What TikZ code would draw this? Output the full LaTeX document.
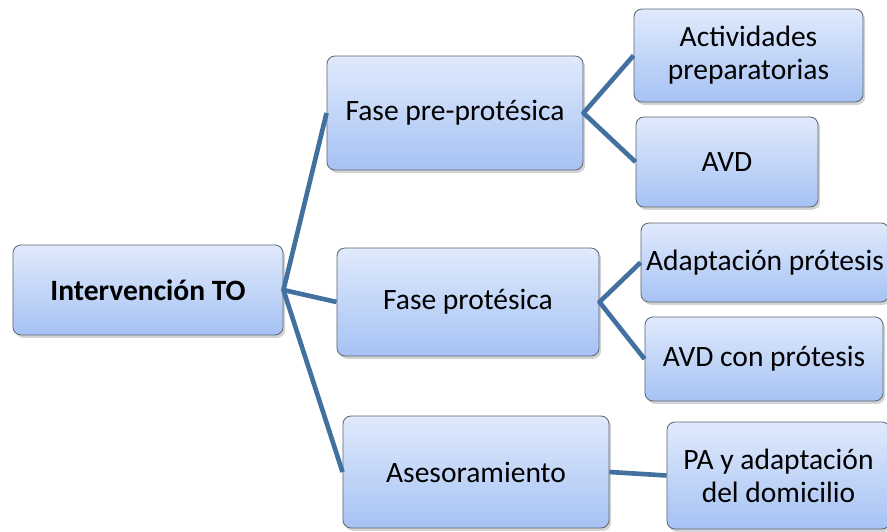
\documentclass[tikz,border=0pt]{standalone}
\usepackage{fontspec}
\setmainfont{Carlito}
\usepackage{tikz}
\usetikzlibrary{shadows}

\begin{document}
\begin{tikzpicture}[x=0.025cm, y=-0.025cm, every node/.style={align=center}]
      \definecolor{boxtop}{HTML}{E0EAFC} \definecolor{boxbot}{HTML}{A6C2F4}
      \definecolor{boxline}{HTML}{5F6670} \definecolor{conncol}{HTML}{42709F}
      \tikzset{
        topicbox/.style={rectangle, rounded corners=0.2cm, draw=boxline, line width=0.6pt,
          top color=boxtop, bottom color=boxbot, inner sep=2pt,
          font=\fontsize{21}{23.5}\selectfont,
          drop shadow={opacity=0.35, shadow xshift=1.5pt, shadow yshift=-2pt}},
        conn/.style={draw=conncol, line width=3.3pt, line join=round}}
      \useasboundingbox (0,0) rectangle (887,532);
      % raiz
      \node[topicbox, minimum width=6.75cm, minimum height=2.25cm, font=\fontsize{21}{23.5}\selectfont\bfseries] (root) at (148,290) {Intervención TO};
      % fases
      \node[topicbox, minimum width=6.4cm, minimum height=2.85cm] (pre) at (455,113) {Fase pre-protésica};
      \node[topicbox, minimum width=6.55cm, minimum height=2.7cm] (pro) at (468,302) {Fase protésica};
      \node[topicbox, minimum width=6.65cm, minimum height=2.8cm] (ases) at (476,472) {Asesoramiento};
      % hojas
      \node[topicbox, minimum width=5.725cm, minimum height=2.325cm] (act) at (748.5,55.5) {Actividades\\preparatorias};
      \node[topicbox, minimum width=4.55cm, minimum height=2.25cm] (avd) at (727,162) {AVD};
      \node[topicbox, minimum width=6.2cm, minimum height=1.975cm] (adap) at (765,262.5) {Adaptación prótesis};
      \node[topicbox, minimum width=5.95cm, minimum height=2.1cm] (avdcon) at (764,359) {AVD con prótesis};
      \node[topicbox, minimum width=5.575cm, minimum height=2.675cm] (pa) at (778.5,475.5) {PA y adaptación\\del domicilio};
      % conectores
      \draw[conn] (pre.west) -- (root.east) -- (pro.west);
      \draw[conn] (root.east) -- (ases.west);
      \draw[conn] (act.west) -- (pre.east) -- (avd.west);
      \draw[conn] (adap.west) -- (pro.east) -- (avdcon.west);
      \draw[conn] (ases.east) -- (pa.west);
    \end{tikzpicture}
\end{document}
